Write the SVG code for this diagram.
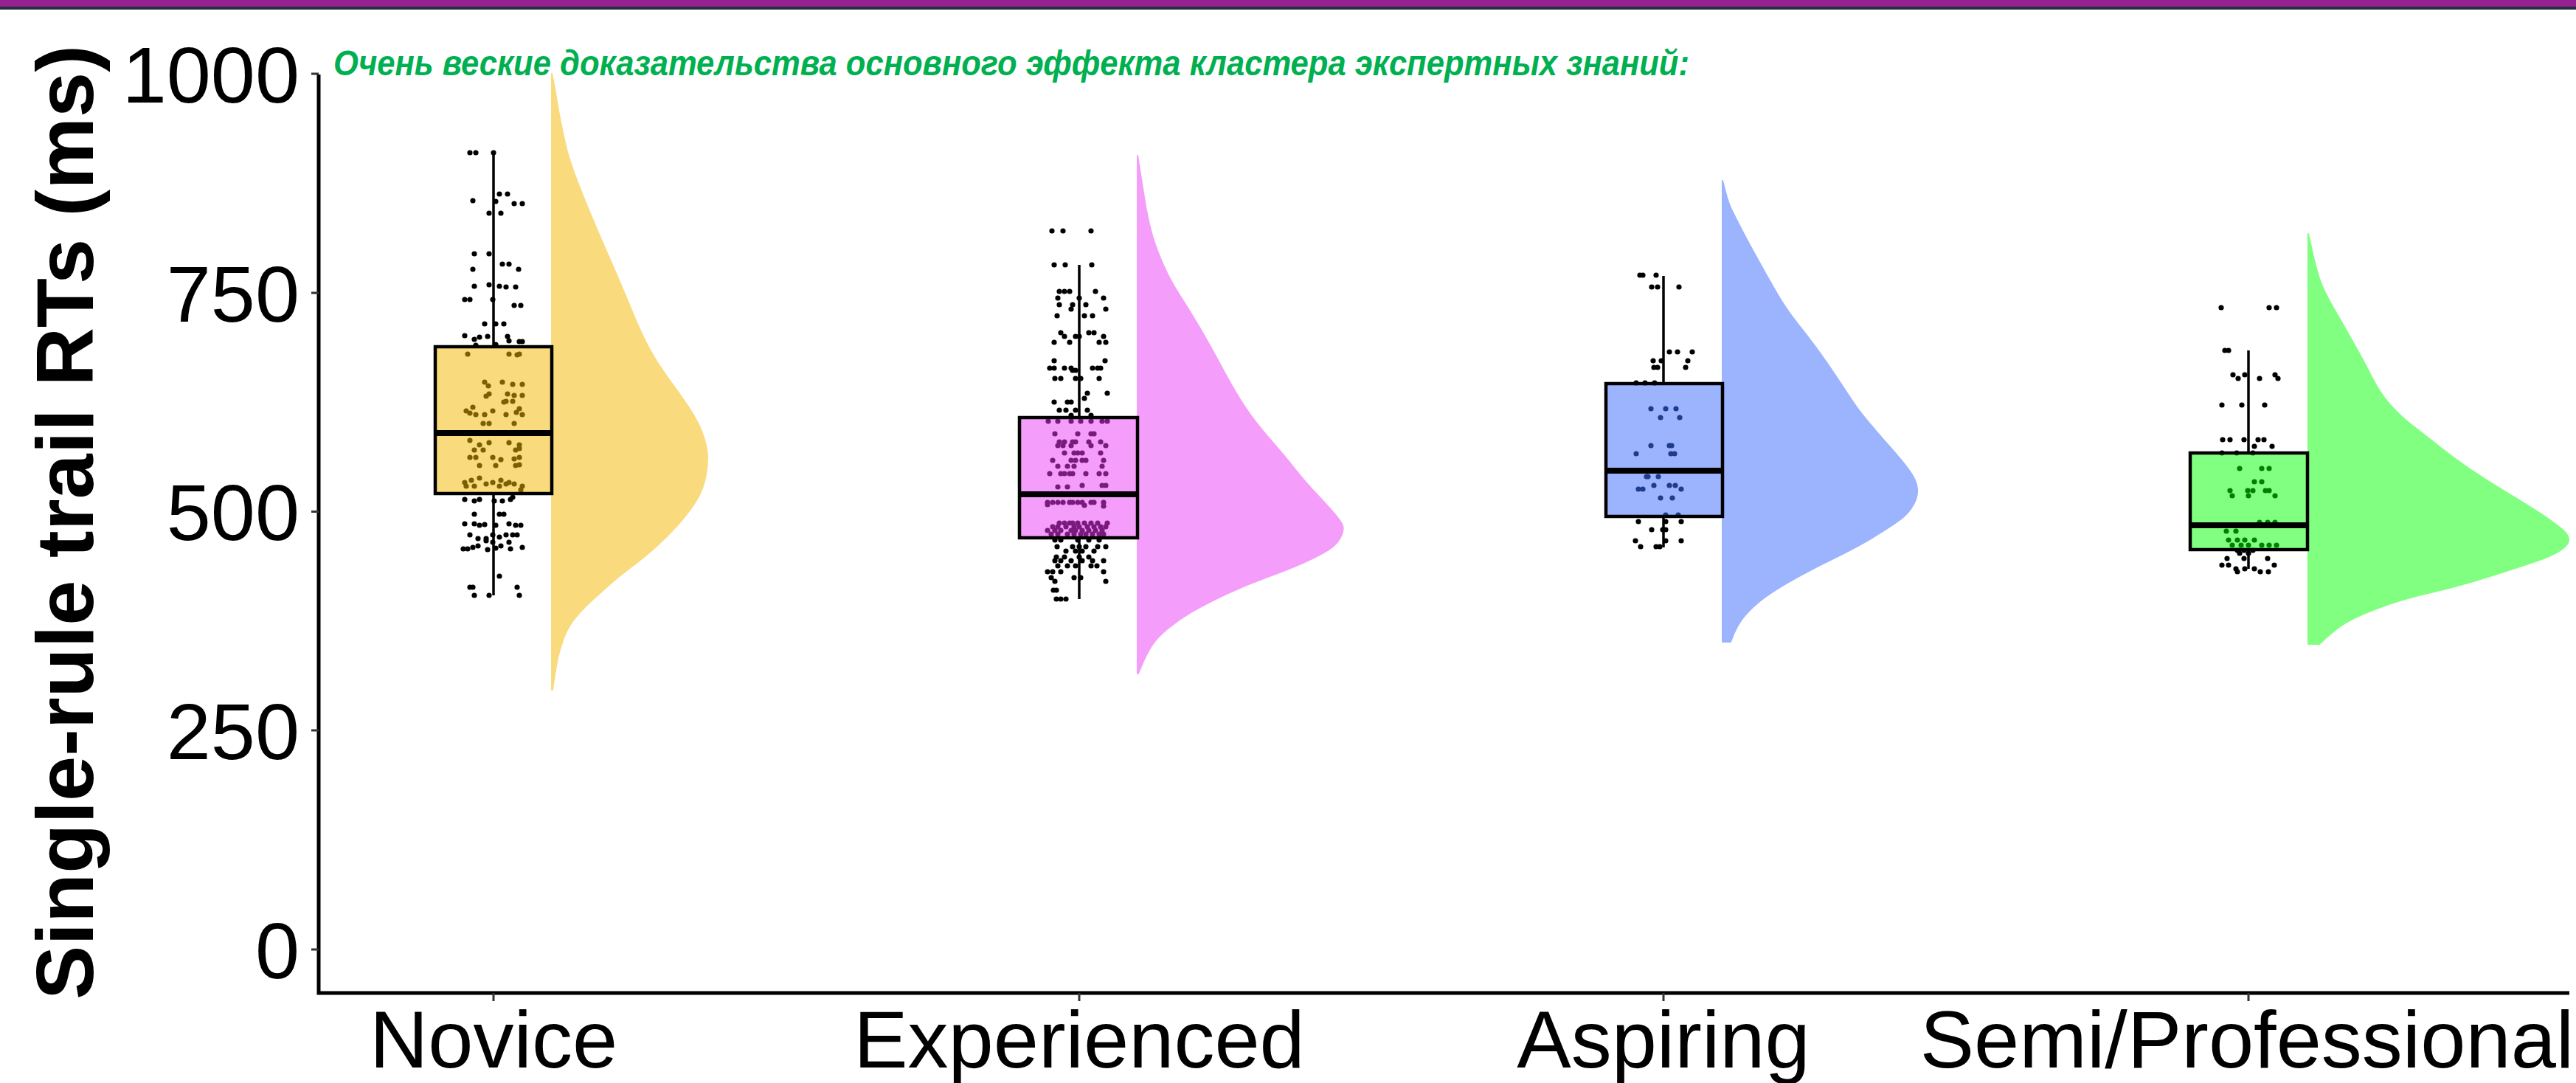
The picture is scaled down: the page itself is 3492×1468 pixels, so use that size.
<svg xmlns="http://www.w3.org/2000/svg" xmlns:xlink="http://www.w3.org/1999/xlink" width="3492" height="1468" viewBox="0 0 3492 1468">
<style>
.ax{stroke:#000;stroke-width:5;fill:none}
.tk{stroke:#333;stroke-width:3}
.wh{stroke:#000;stroke-width:3.5}
.box{fill:none;stroke:#000;stroke-width:4.5}
.med{stroke:#000;stroke-width:8}
.ytl{font-family:"Liberation Sans",Arial,sans-serif;font-size:108px;fill:#000;text-anchor:end}
.xtl{font-family:"Liberation Sans",Arial,sans-serif;font-size:110px;fill:#000;text-anchor:middle}
.ttl{font-family:"Liberation Sans",Arial,sans-serif;font-size:110px;font-weight:bold;fill:#000;text-anchor:middle}
.note{font-family:"Liberation Sans",Arial,sans-serif;font-size:48px;font-weight:bold;font-style:italic;fill:#00B050}
circle{r:3.6px}
</style>
<defs>
<clipPath id="cN"><rect x="590" y="470" width="158" height="199"/></clipPath>
<clipPath id="cE"><rect x="1382" y="566" width="160" height="163"/></clipPath>
<clipPath id="cA"><rect x="2177" y="520" width="158" height="180"/></clipPath>
<clipPath id="cS"><rect x="2969" y="614" width="159" height="131"/></clipPath>
<g id="pN">
<circle cx="637" cy="207" r="3.6"/><circle cx="645" cy="207" r="3.6"/><circle cx="669" cy="207" r="3.6"/>
<circle cx="677" cy="263" r="3.6"/><circle cx="688" cy="263" r="3.6"/>
<circle cx="641" cy="272" r="3.6"/><circle cx="672" cy="273" r="3.6"/><circle cx="697" cy="276" r="3.6"/><circle cx="708" cy="276" r="3.6"/>
<circle cx="663" cy="289" r="3.6"/><circle cx="679" cy="289" r="3.6"/>
<circle cx="643" cy="344" r="3.6"/><circle cx="663" cy="344" r="3.6"/>
<circle cx="681" cy="358" r="3.6"/><circle cx="690" cy="358" r="3.6"/>
<circle cx="641" cy="365" r="3.6"/><circle cx="703" cy="365" r="3.6"/>
<circle cx="643" cy="388" r="3.6"/><circle cx="663" cy="386" r="3.6"/><circle cx="677" cy="388" r="3.6"/><circle cx="686" cy="389" r="3.6"/><circle cx="699" cy="389" r="3.6"/>
<circle cx="630" cy="406" r="3.6"/><circle cx="637" cy="406" r="3.6"/><circle cx="668" cy="406" r="3.6"/>
<circle cx="697" cy="414" r="3.6"/><circle cx="706" cy="414" r="3.6"/>
<circle cx="657" cy="439" r="3.6"/><circle cx="672" cy="439" r="3.6"/><circle cx="683" cy="439" r="3.6"/>
<circle cx="630" cy="455" r="3.6"/><circle cx="643" cy="460" r="3.6"/><circle cx="650" cy="457" r="3.6"/><circle cx="661" cy="456" r="3.6"/>
<circle cx="688" cy="456" r="3.6"/><circle cx="690" cy="462" r="3.6"/><circle cx="704" cy="463" r="3.6"/><circle cx="708" cy="463" r="3.6"/>
<circle cx="645" cy="468" r="3.6"/><circle cx="672" cy="467" r="3.6"/>
<circle cx="634" cy="480" r="3.6"/><circle cx="690" cy="480" r="3.6"/><circle cx="704" cy="480" r="3.6"/><circle cx="701" cy="481" r="3.6"/>
<circle cx="657" cy="518" r="3.6"/><circle cx="681" cy="518" r="3.6"/><circle cx="695" cy="521" r="3.6"/><circle cx="708" cy="521" r="3.6"/><circle cx="662" cy="523" r="3.6"/>
<circle cx="663" cy="534" r="3.6"/><circle cx="688" cy="534" r="3.6"/><circle cx="697" cy="536" r="3.6"/><circle cx="708" cy="536" r="3.6"/><circle cx="659" cy="537" r="3.6"/>
<circle cx="686" cy="544" r="3.6"/><circle cx="695" cy="544" r="3.6"/><circle cx="683" cy="545" r="3.6"/>
<circle cx="632" cy="557" r="3.6"/><circle cx="641" cy="552" r="3.6"/><circle cx="645" cy="562" r="3.6"/><circle cx="657" cy="562" r="3.6"/><circle cx="668" cy="557" r="3.6"/><circle cx="686" cy="562" r="3.6"/><circle cx="704" cy="554" r="3.6"/><circle cx="708" cy="562" r="3.6"/><circle cx="637" cy="560" r="3.6"/><circle cx="700" cy="559" r="3.6"/>
<circle cx="655" cy="574" r="3.6"/><circle cx="663" cy="574" r="3.6"/><circle cx="697" cy="574" r="3.6"/>
<circle cx="637" cy="597" r="3.6"/><circle cx="650" cy="603" r="3.6"/><circle cx="663" cy="600" r="3.6"/><circle cx="690" cy="600" r="3.6"/><circle cx="704" cy="603" r="3.6"/>
<circle cx="643" cy="610" r="3.6"/><circle cx="655" cy="610" r="3.6"/><circle cx="699" cy="610" r="3.6"/><circle cx="704" cy="608" r="3.6"/>
<circle cx="637" cy="620" r="3.6"/><circle cx="645" cy="620" r="3.6"/><circle cx="668" cy="620" r="3.6"/><circle cx="679" cy="623" r="3.6"/><circle cx="704" cy="620" r="3.6"/><circle cx="697" cy="622" r="3.6"/>
<circle cx="650" cy="631" r="3.6"/><circle cx="672" cy="631" r="3.6"/><circle cx="699" cy="631" r="3.6"/><circle cx="704" cy="630" r="3.6"/>
<circle cx="630" cy="654" r="3.6"/><circle cx="639" cy="651" r="3.6"/><circle cx="650" cy="648" r="3.6"/><circle cx="659" cy="656" r="3.6"/><circle cx="668" cy="654" r="3.6"/><circle cx="679" cy="651" r="3.6"/><circle cx="690" cy="654" r="3.6"/><circle cx="697" cy="656" r="3.6"/><circle cx="708" cy="659" r="3.6"/>
<circle cx="632" cy="659" r="3.6"/><circle cx="643" cy="659" r="3.6"/><circle cx="677" cy="659" r="3.6"/><circle cx="686" cy="656" r="3.6"/><circle cx="706" cy="664" r="3.6"/>
<circle cx="630" cy="677" r="3.6"/><circle cx="643" cy="679" r="3.6"/><circle cx="650" cy="677" r="3.6"/><circle cx="670" cy="679" r="3.6"/><circle cx="681" cy="679" r="3.6"/><circle cx="692" cy="677" r="3.6"/><circle cx="695" cy="674" r="3.6"/>
<circle cx="643" cy="697" r="3.6"/><circle cx="677" cy="697" r="3.6"/><circle cx="683" cy="697" r="3.6"/>
<circle cx="630" cy="710" r="3.6"/><circle cx="643" cy="710" r="3.6"/><circle cx="650" cy="712" r="3.6"/><circle cx="657" cy="711" r="3.6"/><circle cx="672" cy="712" r="3.6"/><circle cx="690" cy="710" r="3.6"/><circle cx="699" cy="712" r="3.6"/><circle cx="706" cy="712" r="3.6"/>
<circle cx="637" cy="725" r="3.6"/><circle cx="648" cy="730" r="3.6"/><circle cx="659" cy="730" r="3.6"/><circle cx="668" cy="725" r="3.6"/><circle cx="677" cy="728" r="3.6"/><circle cx="686" cy="725" r="3.6"/><circle cx="695" cy="725" r="3.6"/><circle cx="701" cy="725" r="3.6"/>
<circle cx="628" cy="744" r="3.6"/><circle cx="634" cy="744" r="3.6"/><circle cx="641" cy="742" r="3.6"/><circle cx="648" cy="740" r="3.6"/><circle cx="661" cy="745" r="3.6"/><circle cx="672" cy="743" r="3.6"/><circle cx="679" cy="740" r="3.6"/><circle cx="692" cy="744" r="3.6"/><circle cx="708" cy="742" r="3.6"/>
<circle cx="659" cy="733" r="3.6"/><circle cx="668" cy="735" r="3.6"/><circle cx="690" cy="735" r="3.6"/>
<circle cx="677" cy="781" r="3.6"/>
<circle cx="637" cy="796" r="3.6"/><circle cx="641" cy="796" r="3.6"/><circle cx="701" cy="796" r="3.6"/>
<circle cx="643" cy="807" r="3.6"/><circle cx="663" cy="807" r="3.6"/><circle cx="704" cy="807" r="3.6"/>
</g>
<g id="pE">
<circle cx="1426" cy="313" r="3.6"/><circle cx="1441" cy="313" r="3.6"/><circle cx="1479" cy="313" r="3.6"/>
<circle cx="1429" cy="359" r="3.6"/><circle cx="1444" cy="359" r="3.6"/><circle cx="1480" cy="359" r="3.6"/>
<circle cx="1436" cy="395" r="3.6"/><circle cx="1443" cy="395" r="3.6"/><circle cx="1450" cy="395" r="3.6"/><circle cx="1485" cy="395" r="3.6"/>
<circle cx="1434" cy="404" r="3.6"/><circle cx="1463" cy="404" r="3.6"/><circle cx="1496" cy="404" r="3.6"/>
<circle cx="1436" cy="413" r="3.6"/><circle cx="1454" cy="413" r="3.6"/><circle cx="1472" cy="413" r="3.6"/>
<circle cx="1452" cy="419" r="3.6"/><circle cx="1499" cy="419" r="3.6"/>
<circle cx="1433" cy="428" r="3.6"/><circle cx="1470" cy="428" r="3.6"/><circle cx="1481" cy="428" r="3.6"/>
<circle cx="1438" cy="451" r="3.6"/><circle cx="1476" cy="451" r="3.6"/><circle cx="1483" cy="451" r="3.6"/>
<circle cx="1443" cy="456" r="3.6"/><circle cx="1458" cy="456" r="3.6"/><circle cx="1463" cy="456" r="3.6"/><circle cx="1496" cy="456" r="3.6"/>
<circle cx="1429" cy="464" r="3.6"/><circle cx="1450" cy="464" r="3.6"/><circle cx="1490" cy="464" r="3.6"/><circle cx="1499" cy="464" r="3.6"/>
<circle cx="1429" cy="489" r="3.6"/><circle cx="1498" cy="489" r="3.6"/>
<circle cx="1423" cy="499" r="3.6"/><circle cx="1429" cy="499" r="3.6"/><circle cx="1443" cy="499" r="3.6"/><circle cx="1452" cy="499" r="3.6"/><circle cx="1481" cy="499" r="3.6"/><circle cx="1488" cy="499" r="3.6"/><circle cx="1492" cy="499" r="3.6"/>
<circle cx="1454" cy="502" r="3.6"/><circle cx="1458" cy="502" r="3.6"/>
<circle cx="1430" cy="513" r="3.6"/><circle cx="1438" cy="513" r="3.6"/><circle cx="1458" cy="513" r="3.6"/><circle cx="1465" cy="513" r="3.6"/><circle cx="1490" cy="513" r="3.6"/>
<circle cx="1474" cy="533" r="3.6"/><circle cx="1501" cy="533" r="3.6"/>
<circle cx="1470" cy="540" r="3.6"/>
<circle cx="1429" cy="545" r="3.6"/><circle cx="1447" cy="545" r="3.6"/><circle cx="1452" cy="545" r="3.6"/>
<circle cx="1436" cy="556" r="3.6"/><circle cx="1445" cy="556" r="3.6"/><circle cx="1458" cy="556" r="3.6"/><circle cx="1474" cy="556" r="3.6"/>
<circle cx="1452" cy="563" r="3.6"/><circle cx="1479" cy="563" r="3.6"/>
<circle cx="1421" cy="571" r="3.6"/><circle cx="1434" cy="571" r="3.6"/><circle cx="1452" cy="571" r="3.6"/><circle cx="1465" cy="571" r="3.6"/><circle cx="1479" cy="571" r="3.6"/><circle cx="1494" cy="571" r="3.6"/><circle cx="1501" cy="571" r="3.6"/>
<circle cx="1430" cy="588" r="3.6"/><circle cx="1461" cy="588" r="3.6"/><circle cx="1479" cy="588" r="3.6"/><circle cx="1483" cy="588" r="3.6"/>
<circle cx="1436" cy="599" r="3.6"/><circle cx="1443" cy="599" r="3.6"/><circle cx="1454" cy="599" r="3.6"/><circle cx="1458" cy="599" r="3.6"/><circle cx="1476" cy="599" r="3.6"/><circle cx="1492" cy="599" r="3.6"/>
<circle cx="1434" cy="604" r="3.6"/><circle cx="1441" cy="604" r="3.6"/><circle cx="1452" cy="604" r="3.6"/><circle cx="1479" cy="604" r="3.6"/><circle cx="1499" cy="604" r="3.6"/>
<circle cx="1443" cy="614" r="3.6"/><circle cx="1456" cy="614" r="3.6"/><circle cx="1461" cy="614" r="3.6"/><circle cx="1467" cy="614" r="3.6"/><circle cx="1492" cy="614" r="3.6"/>
<circle cx="1427" cy="624" r="3.6"/><circle cx="1452" cy="624" r="3.6"/><circle cx="1458" cy="624" r="3.6"/><circle cx="1467" cy="624" r="3.6"/><circle cx="1472" cy="624" r="3.6"/><circle cx="1496" cy="624" r="3.6"/>
<circle cx="1434" cy="632" r="3.6"/><circle cx="1447" cy="632" r="3.6"/><circle cx="1456" cy="632" r="3.6"/><circle cx="1494" cy="632" r="3.6"/>
<circle cx="1423" cy="642" r="3.6"/><circle cx="1438" cy="642" r="3.6"/><circle cx="1443" cy="642" r="3.6"/><circle cx="1450" cy="642" r="3.6"/><circle cx="1454" cy="642" r="3.6"/><circle cx="1472" cy="642" r="3.6"/><circle cx="1490" cy="642" r="3.6"/><circle cx="1499" cy="642" r="3.6"/>
<circle cx="1467" cy="658" r="3.6"/><circle cx="1494" cy="658" r="3.6"/><circle cx="1499" cy="658" r="3.6"/>
<circle cx="1434" cy="660" r="3.6"/><circle cx="1447" cy="660" r="3.6"/>
<circle cx="1420" cy="681" r="3.6"/><circle cx="1427" cy="681" r="3.6"/><circle cx="1434" cy="681" r="3.6"/><circle cx="1441" cy="681" r="3.6"/><circle cx="1450" cy="681" r="3.6"/><circle cx="1454" cy="681" r="3.6"/><circle cx="1461" cy="681" r="3.6"/><circle cx="1467" cy="681" r="3.6"/><circle cx="1479" cy="681" r="3.6"/><circle cx="1483" cy="681" r="3.6"/><circle cx="1496" cy="681" r="3.6"/>
<circle cx="1496" cy="686" r="3.6"/><circle cx="1420" cy="684" r="3.6"/><circle cx="1470" cy="685" r="3.6"/>
<circle cx="1436" cy="709" r="3.6"/><circle cx="1443" cy="709" r="3.6"/><circle cx="1450" cy="709" r="3.6"/><circle cx="1454" cy="709" r="3.6"/><circle cx="1461" cy="709" r="3.6"/><circle cx="1470" cy="709" r="3.6"/><circle cx="1479" cy="709" r="3.6"/><circle cx="1488" cy="709" r="3.6"/><circle cx="1501" cy="709" r="3.6"/>
<circle cx="1427" cy="714" r="3.6"/><circle cx="1434" cy="714" r="3.6"/><circle cx="1445" cy="714" r="3.6"/><circle cx="1456" cy="714" r="3.6"/><circle cx="1463" cy="714" r="3.6"/><circle cx="1474" cy="714" r="3.6"/><circle cx="1483" cy="714" r="3.6"/><circle cx="1492" cy="714" r="3.6"/><circle cx="1499" cy="714" r="3.6"/>
<circle cx="1420" cy="719" r="3.6"/><circle cx="1430" cy="719" r="3.6"/><circle cx="1438" cy="719" r="3.6"/><circle cx="1452" cy="719" r="3.6"/><circle cx="1458" cy="719" r="3.6"/><circle cx="1467" cy="719" r="3.6"/><circle cx="1476" cy="719" r="3.6"/><circle cx="1485" cy="719" r="3.6"/><circle cx="1494" cy="719" r="3.6"/>
<circle cx="1425" cy="724" r="3.6"/><circle cx="1434" cy="724" r="3.6"/><circle cx="1447" cy="724" r="3.6"/><circle cx="1456" cy="724" r="3.6"/><circle cx="1465" cy="724" r="3.6"/><circle cx="1472" cy="724" r="3.6"/><circle cx="1481" cy="724" r="3.6"/><circle cx="1490" cy="724" r="3.6"/><circle cx="1496" cy="724" r="3.6"/>
<circle cx="1430" cy="732" r="3.6"/><circle cx="1438" cy="732" r="3.6"/><circle cx="1461" cy="732" r="3.6"/><circle cx="1476" cy="732" r="3.6"/><circle cx="1490" cy="732" r="3.6"/>
<circle cx="1433" cy="741" r="3.6"/><circle cx="1454" cy="741" r="3.6"/><circle cx="1463" cy="741" r="3.6"/><circle cx="1472" cy="741" r="3.6"/><circle cx="1488" cy="741" r="3.6"/><circle cx="1499" cy="741" r="3.6"/>
<circle cx="1445" cy="747" r="3.6"/><circle cx="1458" cy="747" r="3.6"/><circle cx="1467" cy="747" r="3.6"/><circle cx="1483" cy="747" r="3.6"/>
<circle cx="1432" cy="755" r="3.6"/><circle cx="1443" cy="755" r="3.6"/><circle cx="1463" cy="755" r="3.6"/><circle cx="1476" cy="755" r="3.6"/>
<circle cx="1430" cy="760" r="3.6"/><circle cx="1438" cy="760" r="3.6"/><circle cx="1452" cy="760" r="3.6"/><circle cx="1467" cy="760" r="3.6"/><circle cx="1481" cy="760" r="3.6"/><circle cx="1496" cy="760" r="3.6"/>
<circle cx="1434" cy="767" r="3.6"/><circle cx="1447" cy="767" r="3.6"/><circle cx="1458" cy="767" r="3.6"/><circle cx="1479" cy="767" r="3.6"/><circle cx="1487" cy="767" r="3.6"/>
<circle cx="1420" cy="775" r="3.6"/><circle cx="1427" cy="775" r="3.6"/><circle cx="1438" cy="775" r="3.6"/><circle cx="1496" cy="775" r="3.6"/>
<circle cx="1425" cy="783" r="3.6"/><circle cx="1456" cy="783" r="3.6"/><circle cx="1465" cy="783" r="3.6"/>
<circle cx="1430" cy="788" r="3.6"/><circle cx="1499" cy="788" r="3.6"/>
<circle cx="1428" cy="800" r="3.6"/><circle cx="1432" cy="800" r="3.6"/>
<circle cx="1432" cy="812" r="3.6"/><circle cx="1438" cy="812" r="3.6"/><circle cx="1445" cy="812" r="3.6"/>
</g>
<g id="pA">
<circle cx="2223" cy="373" r="3.6"/><circle cx="2227" cy="373" r="3.6"/><circle cx="2245" cy="373" r="3.6"/>
<circle cx="2239" cy="389" r="3.6"/><circle cx="2247" cy="389" r="3.6"/><circle cx="2276" cy="389" r="3.6"/>
<circle cx="2263" cy="477" r="3.6"/><circle cx="2274" cy="477" r="3.6"/><circle cx="2294" cy="477" r="3.6"/>
<circle cx="2241" cy="489" r="3.6"/><circle cx="2252" cy="489" r="3.6"/><circle cx="2288" cy="489" r="3.6"/>
<circle cx="2242" cy="498" r="3.6"/><circle cx="2247" cy="498" r="3.6"/><circle cx="2285" cy="498" r="3.6"/>
<circle cx="2218" cy="519" r="3.6"/><circle cx="2230" cy="519" r="3.6"/><circle cx="2243" cy="519" r="3.6"/>
<circle cx="2238" cy="554" r="3.6"/><circle cx="2258" cy="554" r="3.6"/><circle cx="2272" cy="554" r="3.6"/>
<circle cx="2251" cy="566" r="3.6"/><circle cx="2277" cy="566" r="3.6"/>
<circle cx="2238" cy="604" r="3.6"/><circle cx="2263" cy="604" r="3.6"/><circle cx="2266" cy="604" r="3.6"/>
<circle cx="2218" cy="615" r="3.6"/><circle cx="2265" cy="615" r="3.6"/><circle cx="2270" cy="615" r="3.6"/>
<circle cx="2232" cy="646" r="3.6"/><circle cx="2234" cy="646" r="3.6"/><circle cx="2248" cy="646" r="3.6"/>
<circle cx="2242" cy="658" r="3.6"/><circle cx="2263" cy="658" r="3.6"/><circle cx="2271" cy="658" r="3.6"/>
<circle cx="2221" cy="663" r="3.6"/><circle cx="2227" cy="663" r="3.6"/><circle cx="2279" cy="663" r="3.6"/>
<circle cx="2251" cy="675" r="3.6"/><circle cx="2267" cy="675" r="3.6"/>
<circle cx="2258" cy="698" r="3.6"/><circle cx="2275" cy="698" r="3.6"/>
<circle cx="2221" cy="707" r="3.6"/><circle cx="2258" cy="707" r="3.6"/><circle cx="2279" cy="707" r="3.6"/>
<circle cx="2239" cy="718" r="3.6"/><circle cx="2254" cy="718" r="3.6"/><circle cx="2258" cy="718" r="3.6"/>
<circle cx="2217" cy="733" r="3.6"/><circle cx="2258" cy="733" r="3.6"/><circle cx="2279" cy="733" r="3.6"/>
<circle cx="2224" cy="741" r="3.6"/><circle cx="2245" cy="741" r="3.6"/><circle cx="2250" cy="741" r="3.6"/>
</g>
<g id="pS">
<circle cx="3011" cy="417" r="3.6"/><circle cx="3076" cy="417" r="3.6"/><circle cx="3086" cy="417" r="3.6"/>
<circle cx="3016" cy="475" r="3.6"/><circle cx="3021" cy="475" r="3.6"/>
<circle cx="3027" cy="508" r="3.6"/><circle cx="3043" cy="508" r="3.6"/><circle cx="3084" cy="508" r="3.6"/>
<circle cx="3034" cy="513" r="3.6"/><circle cx="3063" cy="513" r="3.6"/><circle cx="3088" cy="513" r="3.6"/>
<circle cx="3012" cy="549" r="3.6"/><circle cx="3039" cy="549" r="3.6"/><circle cx="3070" cy="549" r="3.6"/>
<circle cx="3013" cy="596" r="3.6"/><circle cx="3023" cy="596" r="3.6"/><circle cx="3042" cy="596" r="3.6"/><circle cx="3061" cy="596" r="3.6"/><circle cx="3069" cy="596" r="3.6"/>
<circle cx="3056" cy="605" r="3.6"/><circle cx="3080" cy="605" r="3.6"/>
<circle cx="3012" cy="614" r="3.6"/><circle cx="3032" cy="614" r="3.6"/><circle cx="3054" cy="614" r="3.6"/>
<circle cx="3036" cy="635" r="3.6"/><circle cx="3066" cy="635" r="3.6"/><circle cx="3076" cy="635" r="3.6"/>
<circle cx="3056" cy="653" r="3.6"/><circle cx="3066" cy="653" r="3.6"/>
<circle cx="3023" cy="665" r="3.6"/><circle cx="3047" cy="665" r="3.6"/><circle cx="3054" cy="665" r="3.6"/><circle cx="3071" cy="665" r="3.6"/><circle cx="3076" cy="665" r="3.6"/>
<circle cx="3026" cy="672" r="3.6"/><circle cx="3048" cy="672" r="3.6"/><circle cx="3084" cy="672" r="3.6"/>
<circle cx="3063" cy="708" r="3.6"/><circle cx="3074" cy="708" r="3.6"/><circle cx="3084" cy="708" r="3.6"/>
<circle cx="3018" cy="720" r="3.6"/><circle cx="3031" cy="720" r="3.6"/>
<circle cx="3021" cy="732" r="3.6"/><circle cx="3033" cy="732" r="3.6"/><circle cx="3043" cy="732" r="3.6"/><circle cx="3056" cy="732" r="3.6"/>
<circle cx="3026" cy="739" r="3.6"/><circle cx="3038" cy="739" r="3.6"/><circle cx="3048" cy="739" r="3.6"/><circle cx="3066" cy="739" r="3.6"/><circle cx="3076" cy="739" r="3.6"/><circle cx="3086" cy="739" r="3.6"/>
<circle cx="3033" cy="746" r="3.6"/><circle cx="3042" cy="746" r="3.6"/><circle cx="3054" cy="746" r="3.6"/>
<circle cx="3036" cy="750" r="3.6"/><circle cx="3048" cy="750" r="3.6"/>
<circle cx="3019" cy="757" r="3.6"/><circle cx="3042" cy="757" r="3.6"/><circle cx="3074" cy="757" r="3.6"/>
<circle cx="3012" cy="766" r="3.6"/><circle cx="3021" cy="766" r="3.6"/><circle cx="3083" cy="766" r="3.6"/>
<circle cx="3031" cy="771" r="3.6"/><circle cx="3043" cy="771" r="3.6"/><circle cx="3056" cy="771" r="3.6"/>
<circle cx="3033" cy="775" r="3.6"/><circle cx="3064" cy="775" r="3.6"/><circle cx="3075" cy="775" r="3.6"/>
</g>
</defs>
<rect x="0" y="0" width="3492" height="1468" fill="#fff"/>
<rect x="0" y="0" width="3492" height="9" fill="#952192"/>
<rect x="0" y="9" width="3492" height="4" fill="#26303c"/>

<g id="novice">
<path d="M748,100 L750.5,112.5 Q753,125 755,138 Q757,151 760,165.5 Q763,180 766.5,196 Q770,212 778.5,235 Q787,258 796.5,281 Q806,304 816,327 Q826,350 836,373 Q846,396 857.5,424 Q869,452 880,472.5 Q891,493 904.5,511 Q918,529 931.5,549 Q945,569 951,584.5 Q957,600 958.5,612.5 Q960,625 957,643 Q954,661 945,676.5 Q936,692 920,710 Q904,728 887,743 Q870,758 855,769 Q840,780 826,792.5 Q812,805 800,816 Q788,827 779,838.5 Q770,850 765,862.5 Q760,875 756.5,890 Q753,905 749,935 L748,935 Z" fill="#F9DB7D" stroke="#F9DB7D" stroke-width="2" stroke-linejoin="round"/>
<line class="wh" x1="669" y1="207" x2="669" y2="807"/>
<use href="#pN" fill="#000"/>
<rect x="590" y="470" width="158" height="199" fill="#F9DB7D"/>
<use href="#pN" fill="#7A6000" clip-path="url(#cN)"/>
<rect class="box" x="590" y="470" width="158" height="199"/>
<line class="med" x1="590" y1="587" x2="748" y2="587"/>
</g>

<g id="experienced">
<path d="M1542,211 L1546,236.5 Q1550,262 1553.5,282.5 Q1557,303 1562.5,321 Q1568,339 1577,359.5 Q1586,380 1599,400 Q1612,420 1625.5,443 Q1639,466 1657,499.5 Q1675,533 1688.5,553 Q1702,573 1722,596 Q1742,619 1755.5,636 Q1769,653 1784.5,669.5 Q1800,686 1809,696.5 Q1818,707 1820,712.5 Q1822,718 1817.5,727.5 Q1813,737 1802,744.5 Q1791,752 1768.5,762 Q1746,772 1717,782.5 Q1688,793 1661.5,805.5 Q1635,818 1617,828.5 Q1599,839 1583.5,851.5 Q1568,864 1560,877 Q1552,890 1543,913 L1542,913 Z" fill="#F59DFA" stroke="#F59DFA" stroke-width="2" stroke-linejoin="round"/>
<line class="wh" x1="1463" y1="359" x2="1463" y2="812"/>
<use href="#pE" fill="#000"/>
<rect x="1382" y="566" width="160" height="163" fill="#F59DFA"/>
<use href="#pE" fill="#7A1A7E" clip-path="url(#cE)"/>
<rect class="box" x="1382" y="566" width="160" height="163"/>
<line class="med" x1="1382" y1="670" x2="1542" y2="670"/>
</g>

<g id="aspiring">
<path d="M2335,245 L2339,260.5 Q2343,276 2348.5,287 Q2354,298 2361,311.5 Q2368,325 2381.5,349.5 Q2395,374 2408,396.5 Q2421,419 2437,439 Q2453,459 2466,477 Q2479,495 2490.5,512.5 Q2502,530 2511,543.5 Q2520,557 2533,572.5 Q2546,588 2562,606 Q2578,624 2588,637.5 Q2598,651 2599,662 Q2600,673 2593.5,684.5 Q2587,696 2575.5,704.5 Q2564,713 2542,726.5 Q2520,740 2488.5,755.5 Q2457,771 2432.5,784.5 Q2408,798 2392.5,809.5 Q2377,821 2365.5,834 Q2354,847 2346,870 L2335,870 Z" fill="#9BB4FD" stroke="#9BB4FD" stroke-width="2" stroke-linejoin="round"/>
<line class="wh" x1="2255" y1="374" x2="2255" y2="742"/>
<use href="#pA" fill="#000"/>
<rect x="2177" y="520" width="158" height="180" fill="#9BB4FD"/>
<use href="#pA" fill="#1E3C8C" clip-path="url(#cA)"/>
<rect class="box" x="2177" y="520" width="158" height="180"/>
<line class="med" x1="2177" y1="638" x2="2335" y2="638"/>
</g>

<g id="semipro">
<path d="M3129,317 L3134,339.5 Q3139,362 3144,377.5 Q3149,393 3162,415.5 Q3175,438 3190,464.5 Q3205,491 3215,511 Q3225,531 3238,546.5 Q3251,562 3268.5,575.5 Q3286,589 3306,605 Q3326,621 3349,636.5 Q3372,652 3394.5,665.5 Q3417,679 3437.5,692 Q3458,705 3473,717.5 Q3488,730 3478,740 Q3468,750 3442.5,759 Q3417,768 3374,781.5 Q3331,795 3293.5,803.5 Q3256,812 3225.5,823.5 Q3195,835 3180,844 Q3165,853 3144,873 L3129,873 Z" fill="#80FF80" stroke="#80FF80" stroke-width="2" stroke-linejoin="round"/>
<line class="wh" x1="3048" y1="475" x2="3048" y2="771"/>
<use href="#pS" fill="#000"/>
<rect x="2969" y="614" width="159" height="131" fill="#80FF80"/>
<use href="#pS" fill="#008000" clip-path="url(#cS)"/>
<rect class="box" x="2969" y="614" width="159" height="131"/>
<line class="med" x1="2969" y1="712" x2="3128" y2="712"/>
</g>

<g id="axes">
<path class="ax" d="M432,101 L432,1346 L3483,1346"/>
<line class="tk" x1="422" y1="100" x2="432" y2="100"/>
<line class="tk" x1="422" y1="397" x2="432" y2="397"/>
<line class="tk" x1="422" y1="693.5" x2="432" y2="693.5"/>
<line class="tk" x1="422" y1="990" x2="432" y2="990"/>
<line class="tk" x1="422" y1="1287" x2="432" y2="1287"/>
<line class="tk" x1="669" y1="1346" x2="669" y2="1357"/>
<line class="tk" x1="1463" y1="1346" x2="1463" y2="1357"/>
<line class="tk" x1="2255" y1="1346" x2="2255" y2="1357"/>
<line class="tk" x1="3048" y1="1346" x2="3048" y2="1357"/>
<text class="ytl" x="406" y="139">1000</text>
<text class="ytl" x="406" y="436">750</text>
<text class="ytl" x="406" y="732">500</text>
<text class="ytl" x="406" y="1029">250</text>
<text class="ytl" x="406" y="1326">0</text>
<text class="xtl" x="669" y="1447">Novice</text>
<text class="xtl" x="1463" y="1447">Experienced</text>
<text class="xtl" x="2255" y="1447">Aspiring</text>
<text class="xtl" x="3046" y="1447">Semi/Professional</text>
<text class="ttl" transform="translate(126,708) rotate(-90)">Single-rule trail RTs (ms)</text>
</g>
<text class="note" x="452" y="102" textLength="1838" lengthAdjust="spacingAndGlyphs">Очень веские доказательства основного эффекта кластера экспертных знаний:</text>
</svg>
